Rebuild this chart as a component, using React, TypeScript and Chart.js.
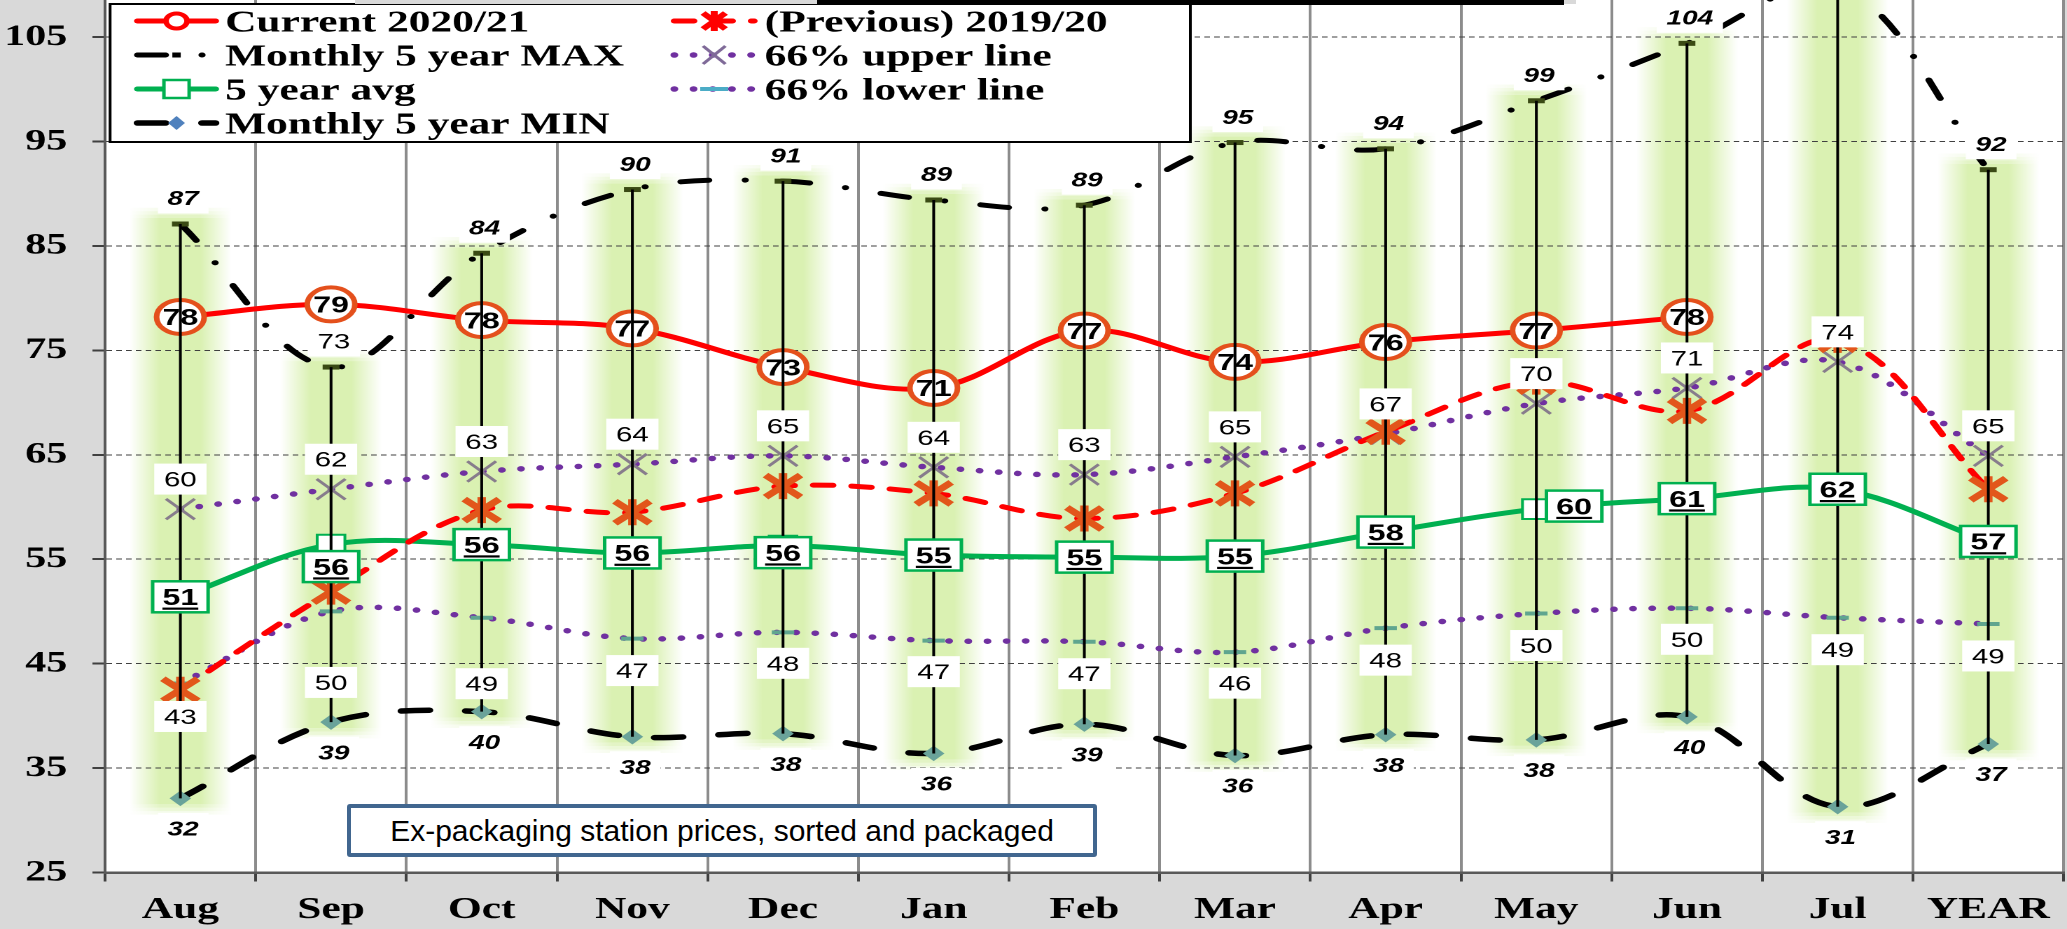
import React, { useEffect, useRef } from 'react';
import { Chart, registerables } from 'chart.js';

Chart.register(...registerables);

// ---------------- data ----------------
const categories = ['Aug', 'Sep', 'Oct', 'Nov', 'Dec', 'Jan', 'Feb', 'Mar', 'Apr', 'May', 'Jun', 'Jul', 'YEAR'];
const current2021 = [78.2, 79.4, 77.9, 77.1, 73.4, 71.4, 76.9, 73.9, 75.8, 76.9, 78.2, null, null];
const previous1920 = [42.5, 51.9, 59.7, 59.5, 62.0, 61.3, 58.9, 61.3, 67.2, 72.0, 69.2, 76.0, 61.7];
const max5y = [87.1, 73.4, 84.3, 90.4, 91.2, 89.4, 88.9, 94.9, 94.3, 98.9, 104.4, 110.0, 92.3];
const upper66 = [59.8, 61.7, 63.4, 64.1, 64.9, 63.8, 63.1, 64.8, 67.0, 69.9, 71.4, 73.9, 64.9];
const avg5y = [51.4, 56.4, 56.4, 55.6, 56.3, 55.4, 55.2, 55.3, 57.6, 59.8, 60.8, 61.7, 56.7];
const lower66 = [43.1, 50.0, 49.4, 47.4, 48.0, 47.2, 47.1, 46.1, 48.4, 49.8, 50.3, 49.4, 48.8];
const min5y = [32.1, 39.4, 40.4, 38.0, 38.3, 36.4, 39.2, 36.2, 38.2, 37.7, 39.9, 31.3, 37.3];
const yTicks = [25, 35, 45, 55, 65, 75, 85, 95, 105];
const noteText = 'Ex-packaging station prices, sorted and packaged';

// ---------------- layout / style ----------------
const OUT_W = 2067;
const OUT_H = 929;
const IN_W = 1476; // drawn narrower, then stretched horizontally like the reference
const Y_MIN = 25;
const Y_MAX = 108.55;
const SERIF = "'Liberation Serif', 'Times New Roman', serif";
const SANS = "'Liberation Sans', Arial, sans-serif";
const IDX = { cur: 0, prev: 1, max: 2, up: 3, avg: 4, low: 5, min: 6 };
const lowerLabelDy = [33, 71, 66, 32, 31, 31, 32, 31, 32, 32, 31, 32, 32];
const avgLabelDx = [0, 0, 0, 0, 0, 0, 0, 0, 0, 27, 0, 0, 0];
const avgLabelDy = [0, 22, 0, 0, 7, 0, 0, 0, 0, -3, 0, 0, 0];
const GLOW = '218,241,178';

function drawAsterisk(ctx: CanvasRenderingContext2D, x: number, y: number, hw: number, hh: number, color: string, lw: number) {
  ctx.save();
  ctx.strokeStyle = color;
  ctx.lineWidth = lw;
  ctx.lineCap = 'butt';
  ctx.beginPath();
  ctx.moveTo(x - hw, y - hh);
  ctx.lineTo(x + hw, y + hh);
  ctx.moveTo(x - hw, y + hh);
  ctx.lineTo(x + hw, y - hh);
  ctx.moveTo(x, y - hh - 2);
  ctx.lineTo(x, y + hh + 2);
  ctx.stroke();
  ctx.restore();
}

function drawLabel(
  ctx: CanvasRenderingContext2D,
  text: string,
  cx: number,
  cy: number,
  font: string,
  capH: number,
  box: 'white' | 'green' | null,
  underline = false
) {
  ctx.save();
  ctx.font = font;
  const w = ctx.measureText(text).width;
  const bw = w + 14;
  const bh = 31;
  if (box) {
    ctx.fillStyle = '#ffffff';
    ctx.fillRect(cx - bw / 2, cy - bh / 2, bw, bh);
    if (box === 'green') {
      ctx.strokeStyle = '#00b050';
      ctx.lineWidth = 2.5;
      ctx.strokeRect(cx - bw / 2, cy - bh / 2, bw, bh);
    }
  }
  ctx.fillStyle = '#000000';
  ctx.textAlign = 'center';
  ctx.textBaseline = 'alphabetic';
  const base = cy + capH / 2;
  ctx.fillText(text, cx, base);
  if (underline) ctx.fillRect(cx - w / 2, base + 2.5, w, 2.2);
  ctx.restore();
}

const backgroundPlugin = {
  id: 'bgGlow',
  beforeDraw(chart: any) {
    const { ctx, chartArea: a } = chart;
    ctx.save();
    ctx.fillStyle = '#d9d9d9';
    ctx.fillRect(0, 0, chart.width, chart.height);
    ctx.fillStyle = '#ffffff';
    ctx.fillRect(a.left, a.top, a.right - a.left, a.bottom - a.top);
    ctx.beginPath();
    ctx.rect(a.left, a.top, a.right - a.left, a.bottom - a.top);
    ctx.clip();
    const hi = chart.getDatasetMeta(IDX.max).data;
    const lo = chart.getDatasetMeta(IDX.min).data;
    hi.forEach((p: any, i: number) => {
      const q = lo[i];
      if (!p || !q) return;
      const half = 36;
      const y1 = Math.min(p.y, q.y) - 16;
      const y2 = Math.max(p.y, q.y) + 16;
      const g = ctx.createLinearGradient(p.x - half, 0, p.x + half, 0);
      g.addColorStop(0, `rgba(${GLOW},0)`);
      g.addColorStop(0.3, `rgba(${GLOW},1)`);
      g.addColorStop(0.7, `rgba(${GLOW},1)`);
      g.addColorStop(1, `rgba(${GLOW},0)`);
      ctx.fillStyle = g;
      ctx.fillRect(p.x - half, y1 + 10, half * 2, y2 - y1 - 20);
      // soft ends
      const steps = [0.75, 0.5, 0.25];
      steps.forEach((al, k) => {
        ctx.globalAlpha = al;
        ctx.fillRect(p.x - half, y1 + 10 - (k + 1) * 3.4, half * 2, 3.4);
        ctx.fillRect(p.x - half, y2 - 10 + k * 3.4, half * 2, 3.4);
      });
      ctx.globalAlpha = 1;
    });
    ctx.restore();
  },
  afterDatasetDraw(chart: any, args: any) {
    if (args.index !== IDX.prev) return;
    const { ctx, chartArea: a } = chart;
    ctx.save();
    ctx.beginPath();
    ctx.rect(a.left, a.top, a.right - a.left, a.bottom - a.top);
    ctx.clip();
    args.meta.data.forEach((p: any, i: number) => {
      if (previous1920[i] == null) return;
      drawAsterisk(ctx, p.x, p.y, 12.5, 11, '#e2561b', 6);
    });
    ctx.restore();
  },
  afterDatasetsDraw(chart: any) {
    const { ctx, chartArea: a } = chart;
    const hi = chart.getDatasetMeta(IDX.max).data;
    const lo = chart.getDatasetMeta(IDX.min).data;
    ctx.save();
    ctx.beginPath();
    ctx.rect(a.left, a.top, a.right - a.left, a.bottom - a.top);
    ctx.clip();
    // high-low lines
    ctx.strokeStyle = '#000000';
    ctx.lineWidth = 2;
    hi.forEach((p: any, i: number) => {
      const q = lo[i];
      ctx.beginPath();
      ctx.moveTo(p.x, p.y);
      ctx.lineTo(q.x, q.y);
      ctx.stroke();
    });
    // data labels
    const pts = (k: number) => chart.getDatasetMeta(k).data;
    pts(IDX.low).forEach((p: any, i: number) => {
      drawLabel(ctx, String(Math.round(lower66[i])), p.x, p.y + lowerLabelDy[i], `21px ${SANS}`, 15, 'white');
    });
    pts(IDX.up).forEach((p: any, i: number) => {
      drawLabel(ctx, String(Math.round(upper66[i])), p.x, p.y - 30, `21px ${SANS}`, 15, 'white');
    });
    pts(IDX.min).forEach((p: any, i: number) => {
      drawLabel(ctx, String(Math.round(min5y[i])), p.x + 2, p.y + 30, `italic bold 20px ${SANS}`, 14.3, 'white');
    });
    pts(IDX.max).forEach((p: any, i: number) => {
      const font = i === 1 ? `21px ${SANS}` : `italic bold 20px ${SANS}`;
      drawLabel(ctx, String(Math.round(max5y[i])), p.x + 2, p.y - 26, font, 14.5, 'white');
    });
    pts(IDX.avg).forEach((p: any, i: number) => {
      drawLabel(ctx, String(Math.round(avg5y[i])), p.x + avgLabelDx[i], p.y + avgLabelDy[i], `bold 23px ${SANS}`, 16.5, 'green', true);
    });
    pts(IDX.cur).forEach((p: any, i: number) => {
      const v = current2021[i];
      if (v == null) return;
      drawLabel(ctx, String(Math.round(v)), p.x, p.y, `bold 23px ${SANS}`, 16.5, null);
    });
    ctx.restore();
  },
  afterDraw(chart: any) {
    const ctx: CanvasRenderingContext2D = chart.ctx;
    const ds = chart.data.datasets;
    ctx.save();
    // legend box
    const L = 78.6, T = 4, R = 850, B = 142;
    ctx.fillStyle = '#ffffff';
    ctx.fillRect(L, T, R - L, B - T);
    ctx.strokeStyle = '#000000';
    ctx.lineWidth = 2;
    ctx.strokeRect(L, T, R - L, B - T);
    const rowsY = [21, 55, 89, 123];
    const items = [
      { d: IDX.cur, col: 0, row: 0, mk: 'circle' },
      { d: IDX.max, col: 0, row: 1, mk: 'maxdash' },
      { d: IDX.avg, col: 0, row: 2, mk: 'square' },
      { d: IDX.min, col: 0, row: 3, mk: 'diamond' },
      { d: IDX.prev, col: 1, row: 0, mk: 'asterisk' },
      { d: IDX.up, col: 1, row: 1, mk: 'x' },
      { d: IDX.low, col: 1, row: 2, mk: 'dash' },
    ];
    const cols = [
      { x1: 95.7, x2: 156.4, tx: 160.7 },
      { x1: 479, x2: 541, tx: 546 },
    ];
    items.forEach((it) => {
      const d = ds[it.d];
      const c = cols[it.col];
      const y = rowsY[it.row];
      const cx = (c.x1 + c.x2) / 2;
      ctx.save();
      ctx.beginPath();
      ctx.rect(c.x1 - 1, y - 10, c.x2 - c.x1 + 2, 20);
      ctx.clip();
      ctx.strokeStyle = d.borderColor;
      ctx.lineWidth = d.borderWidth;
      ctx.lineCap = 'round';
      ctx.setLineDash(d.borderDash || []);
      ctx.beginPath();
      ctx.moveTo(c.x1 + 2.5, y);
      ctx.lineTo(c.x2 - 2.5, y);
      ctx.stroke();
      ctx.restore();
      ctx.save();
      ctx.setLineDash([]);
      if (it.mk === 'circle') {
        ctx.beginPath();
        ctx.arc(cx, y, 7.5, 0, Math.PI * 2);
        ctx.fillStyle = '#ffffff';
        ctx.fill();
        ctx.strokeStyle = '#ff0000';
        ctx.lineWidth = 4;
        ctx.stroke();
      } else if (it.mk === 'maxdash') {
        ctx.strokeStyle = '#000000';
        ctx.lineWidth = 5;
        ctx.beginPath();
        ctx.moveTo(cx - 3, y);
        ctx.lineTo(cx + 3, y);
        ctx.stroke();
      } else if (it.mk === 'square') {
        ctx.fillStyle = '#ffffff';
        ctx.fillRect(cx - 9, y - 9, 18, 18);
        ctx.strokeStyle = '#00b050';
        ctx.lineWidth = 2.5;
        ctx.strokeRect(cx - 9, y - 9, 18, 18);
      } else if (it.mk === 'diamond') {
        ctx.fillStyle = '#4f81bd';
        ctx.beginPath();
        ctx.moveTo(cx, y - 7);
        ctx.lineTo(cx + 6, y);
        ctx.lineTo(cx, y + 7);
        ctx.lineTo(cx - 6, y);
        ctx.closePath();
        ctx.fill();
      } else if (it.mk === 'asterisk') {
        drawAsterisk(ctx, cx, y, 8, 8, '#ff0000', 5);
      } else if (it.mk === 'x') {
        ctx.strokeStyle = '#7f6a98';
        ctx.lineWidth = 2.5;
        ctx.beginPath();
        ctx.moveTo(cx - 8, y - 9);
        ctx.lineTo(cx + 8, y + 9);
        ctx.moveTo(cx - 8, y + 9);
        ctx.lineTo(cx + 8, y - 9);
        ctx.stroke();
      } else if (it.mk === 'dash') {
        ctx.strokeStyle = '#4bacc6';
        ctx.lineWidth = 4;
        ctx.beginPath();
        ctx.moveTo(cx - 10, y);
        ctx.lineTo(cx + 10, y);
        ctx.stroke();
      }
      ctx.restore();
      ctx.fillStyle = '#000000';
      ctx.font = `bold 31px ${SERIF}`;
      ctx.textAlign = 'left';
      ctx.textBaseline = 'alphabetic';
      ctx.fillText(d.label, c.tx, y + 10.3);
    });
    ctx.restore();
  },
};

function buildConfig(): any {
  return {
    type: 'line',
    data: {
      labels: categories,
      datasets: [
        {
          label: 'Current 2020/21',
          data: current2021,
          borderColor: '#ff0000',
          borderWidth: 5,
          tension: 0.35,
          pointStyle: 'circle',
          pointRadius: 17,
          pointBorderWidth: 4,
          pointBorderColor: '#e4501c',
          pointBackgroundColor: '#ffffff',
          order: 1,
        },
        {
          label: '(Previous) 2019/20',
          data: previous1920,
          borderColor: '#ff0000',
          borderWidth: 5,
          borderDash: [14, 13.5],
          borderCapStyle: 'round',
          tension: 0.35,
          pointRadius: 0,
          order: 2,
        },
        {
          label: 'Monthly 5 year MAX',
          data: max5y,
          borderColor: '#000000',
          borderWidth: 5,
          borderDash: [20, 26, 0.1, 26],
          borderCapStyle: 'round',
          tension: 0.35,
          pointStyle: 'line',
          pointRadius: 6,
          pointBorderWidth: 5,
          pointBorderColor: '#3a4a14',
          order: 6,
        },
        {
          label: '66% upper line',
          data: upper66,
          borderColor: '#7030a0',
          borderWidth: 5.5,
          borderDash: [0.1, 13.6],
          borderCapStyle: 'round',
          tension: 0.35,
          pointStyle: 'crossRot',
          pointRadius: 14.5,
          pointBorderWidth: 2.5,
          pointBorderColor: '#877c8c',
          order: 4,
        },
        {
          label: '5 year avg',
          data: avg5y,
          borderColor: '#00b050',
          borderWidth: 5,
          tension: 0.35,
          pointStyle: 'rect',
          pointRadius: 14,
          pointBorderWidth: 2,
          pointBorderColor: '#00b050',
          pointBackgroundColor: '#ffffff',
          order: 3,
        },
        {
          label: '66% lower line',
          data: lower66,
          borderColor: '#7030a0',
          borderWidth: 5.5,
          borderDash: [0.1, 13.6],
          borderCapStyle: 'round',
          tension: 0.35,
          pointStyle: 'line',
          pointRadius: 8,
          pointBorderWidth: 4,
          pointBorderColor: '#5fa58f',
          order: 5,
        },
        {
          label: 'Monthly 5 year MIN',
          data: min5y,
          borderColor: '#000000',
          borderWidth: 5.5,
          borderDash: [20, 26],
          borderCapStyle: 'round',
          tension: 0.35,
          pointStyle: 'rectRot',
          pointRadius: 7,
          pointBorderWidth: 1,
          pointBorderColor: '#6aa39a',
          pointBackgroundColor: '#6aa39a',
          order: 7,
        },
      ],
    },
    options: {
      responsive: false,
      animation: false,
      devicePixelRatio: 2,
      events: [],
      layout: { autoPadding: false, padding: { left: 0, right: 2.4, top: 0, bottom: 0 } },
      plugins: { legend: { display: false }, tooltip: { enabled: false }, title: { display: false } },
      scales: {
        x: {
          type: 'category',
          offset: true,
          grid: {
            offset: true,
            color: '#8c8c8c',
            lineWidth: 2,
            drawTicks: true,
            tickLength: 9,
            tickColor: '#404040',
            tickWidth: 2,
          },
          border: { color: '#595959', width: 2.5 },
          ticks: {
            color: '#000000',
            font: { family: SERIF, size: 31, weight: 'bold' },
            padding: 10,
            maxRotation: 0,
            autoSkip: false,
          },
          afterFit: (s: any) => {
            s.height = 56.5;
            s.paddingLeft = 0;
            s.paddingRight = 0;
          },
        },
        y: {
          type: 'linear',
          min: Y_MIN,
          max: Y_MAX,
          afterBuildTicks: (s: any) => {
            s.ticks = yTicks.map((v) => ({ value: v }));
          },
          grid: {
            color: '#404040',
            lineWidth: 1,
            tickLength: 9,
            tickColor: '#404040',
            tickWidth: 2,
            tickBorderDash: [],
          },
          border: { color: '#595959', width: 2, dash: [4, 3] },
          ticks: {
            color: '#000000',
            font: { family: SERIF, size: 30, weight: 'bold' },
            padding: 18,
            callback: (v: any) => String(v),
          },
          afterFit: (s: any) => {
            s.width = 75;
            s.paddingTop = 0;
            s.paddingBottom = 0;
          },
        },
      },
    },
    plugins: [backgroundPlugin],
  };
}

export default function App() {
  const ref = useRef<HTMLCanvasElement | null>(null);
  useEffect(() => {
    const canvas = ref.current;
    if (!canvas) return;
    const chart = new Chart(canvas, buildConfig());
    return () => {
      chart.destroy();
    };
  }, []);
  return (
    <div
      style={{
        position: 'absolute',
        left: 0,
        top: 0,
        width: OUT_W,
        height: OUT_H,
        background: '#d9d9d9',
        overflow: 'hidden',
      }}
    >
      <canvas
        ref={ref}
        width={IN_W}
        height={OUT_H}
        style={{ width: `${OUT_W}px`, height: `${OUT_H}px`, display: 'block' }}
      />
      {/* bottom edge of the cropped-off title box at the very top */}
      <div style={{ position: 'absolute', left: 355, top: 0, width: 1221, height: 4, background: '#d9d9d9' }} />
      <div style={{ position: 'absolute', left: 817, top: 0, width: 747, height: 5, background: '#000000' }} />
      <div
        style={{
          position: 'absolute',
          left: 347,
          top: 804,
          width: 750,
          height: 53,
          boxSizing: 'border-box',
          border: '4px solid #41668f',
          borderRadius: 3,
          background: '#ffffff',
          color: '#000000',
          font: `30px ${SANS}`,
          display: 'flex',
          alignItems: 'center',
          justifyContent: 'center',
          whiteSpace: 'nowrap',
        }}
      >
        {noteText}
      </div>
    </div>
  );
}
